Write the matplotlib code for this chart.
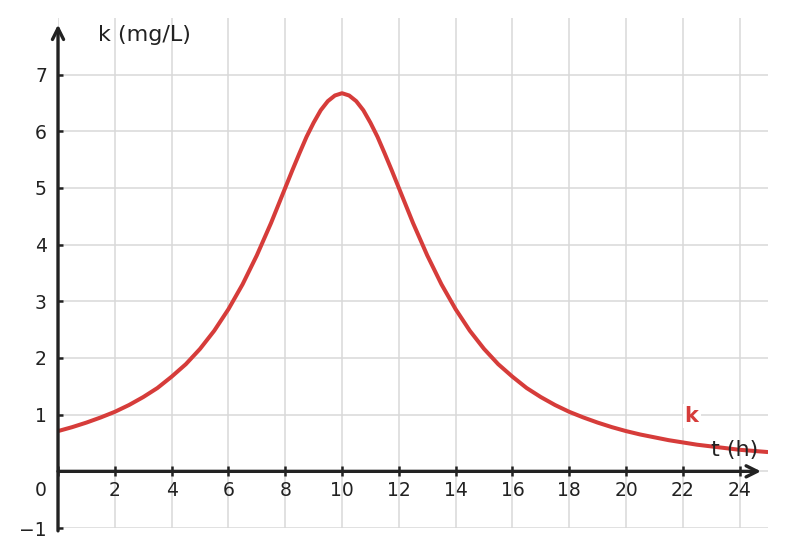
import matplotlib.pyplot as plt

# concentration curve
t_vals = [0, 0.5, 1, 1.5, 2, 2.5, 3, 3.5, 4, 4.5, 5, 5.5, 6, 6.5, 7, 7.5,
          8, 8.25, 8.5, 8.75, 9, 9.25, 9.5, 9.75, 10, 10.25, 10.5, 10.75,
          11, 11.25, 11.5, 11.75, 12, 12.5, 13, 13.5, 14, 14.5, 15, 15.5,
          16, 16.5, 17, 17.5, 18, 18.5, 19, 19.5, 20, 20.5, 21, 21.5, 22,
          22.5, 23, 23.5, 24, 24.5, 25]
k_vals = [0.71, 0.78, 0.86, 0.95, 1.05, 1.17, 1.31, 1.47, 1.67, 1.89, 2.16,
          2.48, 2.86, 3.30, 3.81, 4.38, 5.00, 5.31, 5.61, 5.90, 6.15, 6.37,
          6.53, 6.63, 6.67, 6.63, 6.53, 6.37, 6.15, 5.90, 5.61, 5.31, 5.00,
          4.38, 3.81, 3.30, 2.86, 2.48, 2.16, 1.89, 1.67, 1.47, 1.31, 1.17,
          1.05, 0.95, 0.86, 0.78, 0.71, 0.65, 0.60, 0.55, 0.51, 0.47, 0.44,
          0.41, 0.38, 0.36, 0.34]

x_ticks = list(range(0, 25, 2))
y_ticks = list(range(-1, 8))

axis_col = '#222222'
curve_col = '#d63c3a'

fig = plt.figure(figsize=(7.85, 5.57), dpi=100)
ax = fig.add_axes([0.0739, 0.052, 0.9045, 0.916])

ax.set_xlim(0, 25)
ax.set_ylim(-1, 8)

for s in ax.spines.values():
    s.set_visible(False)
ax.spines['left'].set_position(('data', 0))
ax.spines['bottom'].set_position(('data', 0))

ax.set_xticks(x_ticks)
ax.set_xticklabels(['' if v == 0 else str(v) for v in x_ticks])
ax.set_yticks(y_ticks)
ax.set_yticklabels(['' if v == 0 else ('\u22121' if v == -1 else str(v)) for v in y_ticks])

ax.tick_params(axis='x', direction='inout', length=7.2, width=1.8, color=axis_col,
               labelsize=13.5, labelcolor=axis_col, pad=3.5)
ax.tick_params(axis='y', direction='in', length=3.6, width=1.8, color=axis_col,
               labelsize=13.5, labelcolor=axis_col, pad=8)

ax.grid(True, color='#d9d9d9', linewidth=1.1, zorder=0)
ax.set_axisbelow(True)

ax.plot(t_vals, k_vals, color=curve_col, linewidth=2.9, zorder=3,
        solid_capstyle='butt', solid_joinstyle='round')

# axes with arrow heads
arrow = dict(arrowstyle='->', lw=2.4, color=axis_col, mutation_scale=20,
             shrinkA=0, shrinkB=0)
ax.annotate('', xy=(24.75, 0), xytext=(0, 0), arrowprops=arrow, zorder=4)
ax.annotate('', xy=(0, 7.88), xytext=(0, -1.05), arrowprops=arrow, zorder=4)

ax.text(-0.39, -0.33, '0', ha='right', va='center', fontsize=13.5, color=axis_col)
ax.text(1.41, 7.69, 'k (mg/L)', ha='left', va='center', fontsize=16, color=axis_col)
ax.text(22.98, 0.37, 't (h)', ha='left', va='center', fontsize=16, color=axis_col,
        zorder=5)
ax.text(22.31, 0.97, 'k', ha='center', va='center', fontsize=15, fontweight='bold',
        color=curve_col, zorder=5,
        bbox=dict(boxstyle='square,pad=0.1', facecolor='white', edgecolor='none'))

fig.savefig('out.png', dpi=100)
